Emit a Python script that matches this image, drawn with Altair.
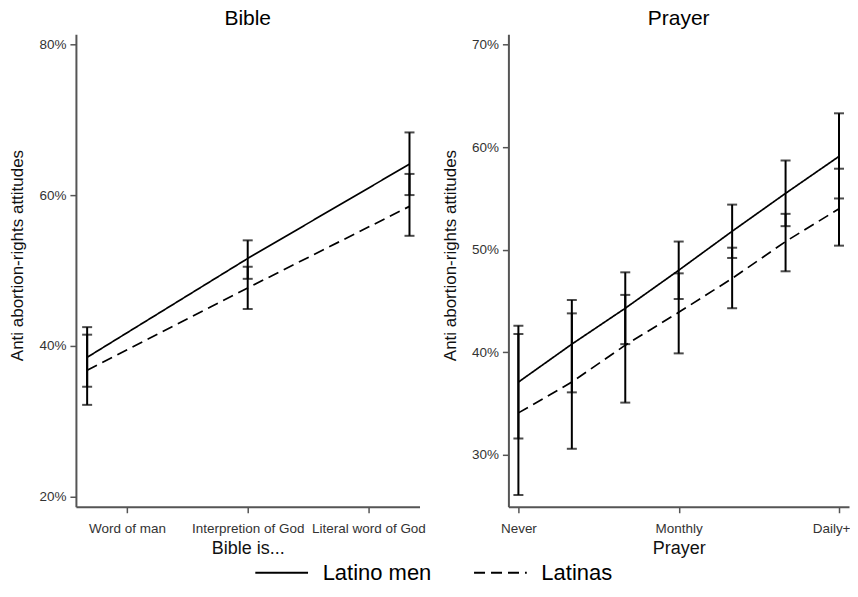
import altair as alt
import pandas as pd

FONT = "Liberation Sans"

groups = ["Latino men", "Latinas"]

# Bible panel
bible_x = [0.67, 2.0, 3.34]
bible_tick_values = [1, 2, 3]
bible_tick_labels = ["Word of man", "Interpretion of God", "Literal word of God"]
bible_men = [38.5, 51.6, 64.1]
bible_men_lo = [34.6, 48.9, 60.0]
bible_men_hi = [42.5, 54.0, 68.3]
bible_women = [36.8, 47.7, 58.5]
bible_women_lo = [32.2, 44.9, 54.6]
bible_women_hi = [41.5, 50.5, 62.8]
bible_y_ticks = [20, 40, 60, 80]

# Prayer panel
prayer_x = [1, 2, 3, 4, 5, 6, 7]
prayer_tick_values = [1, 4, 7]
prayer_tick_labels = ["Never", "Monthly", "Daily+"]
prayer_men = [37.1, 40.8, 44.3, 48.0, 51.8, 55.5, 59.1]
prayer_men_lo = [31.6, 36.1, 40.8, 45.2, 49.2, 52.3, 55.0]
prayer_men_hi = [42.6, 45.1, 47.8, 50.8, 54.4, 58.7, 63.3]
prayer_women = [34.1, 37.1, 40.7, 43.9, 47.2, 50.8, 54.0]
prayer_women_lo = [26.1, 30.6, 35.1, 39.9, 44.3, 47.9, 50.4]
prayer_women_hi = [41.8, 43.8, 45.6, 47.7, 50.2, 53.5, 57.9]
prayer_y_ticks = [30, 40, 50, 60, 70]


def make_df(xs, men, men_lo, men_hi, women, women_lo, women_hi):
    rows = []
    for i, x in enumerate(xs):
        rows.append({"x": x, "g": groups[0], "y": men[i], "lo": men_lo[i], "hi": men_hi[i]})
        rows.append({"x": x, "g": groups[1], "y": women[i], "lo": women_lo[i], "hi": women_hi[i]})
    return pd.DataFrame(rows)


def caps_df(df):
    a = df[["x", "g", "lo"]].rename(columns={"lo": "cap"})
    b = df[["x", "g", "hi"]].rename(columns={"hi": "cap"})
    return pd.concat([a, b], ignore_index=True)


def label_expr(values, labels):
    parts = []
    for v, l in zip(values, labels):
        parts.append(f"datum.value == {v} ? '{l}' : ")
    return "".join(parts) + "''"


def panel(df, title, xtitle, xdomain, xticks, xlabels, ydomain, yticks, width, show_legend, last_right):
    xaxis_kw = dict(values=xticks, labelExpr=label_expr(xticks, xlabels), title=xtitle,
                    labelOverlap=False, labelFlush=False, grid=False)
    if last_right:
        xaxis_kw["labelAlign"] = {"condition": {"test": f"datum.value == {xticks[-1]}", "value": "right"},
                                  "value": "center"}
        xaxis_kw["labelOffset"] = {"condition": {"test": f"datum.value == {xticks[-1]}", "value": 11},
                                   "value": 0}
    xaxis = alt.Axis(**xaxis_kw)
    yaxis = alt.Axis(values=yticks, labelExpr="datum.value + '%'", title="Anti abortion-rights attitudes",
                     grid=False, titleY=221)
    xs = alt.X("x:Q", scale=alt.Scale(domain=xdomain, nice=False, zero=False), axis=xaxis)
    ys = alt.Y("y:Q", scale=alt.Scale(domain=ydomain, nice=False, zero=False), axis=yaxis)
    dash = alt.StrokeDash(
        "g:N",
        scale=alt.Scale(domain=groups, range=[[1, 0], [11, 6]]),
        legend=(alt.Legend(title=None, orient="none", direction="horizontal", padding=0,
                           legendX=194, legendY=527, symbolType="M-2.4,0H2.4", symbolSize=484,
                           symbolStrokeWidth=2, symbolStrokeColor="black", labelFontSize=22,
                           labelFont=FONT, labelColor="black", columnPadding=38, labelOffset=29)
                if show_legend else None),
    )
    base = alt.Chart(df)
    lines = base.mark_line(color="black", strokeWidth=1.7, clip=True).encode(x=xs, y=ys, strokeDash=dash)
    rules = base.mark_rule(color="black", strokeWidth=2).encode(
        x=alt.X("x:Q"), y=alt.Y("lo:Q"), y2="hi:Q")
    caps = alt.Chart(caps_df(df)).mark_tick(color="black", orient="horizontal", size=10, thickness=2).encode(
        x=alt.X("x:Q"), y=alt.Y("cap:Q"))
    return alt.layer(lines, rules, caps).properties(
        width=width, height=473,
        title=alt.TitleParams(title, fontSize=21, font=FONT, fontWeight="normal", color="black",
                              offset=5),
    )


bible_df = make_df(bible_x, bible_men, bible_men_lo, bible_men_hi, bible_women, bible_women_lo, bible_women_hi)
prayer_df = make_df(prayer_x, prayer_men, prayer_men_lo, prayer_men_hi, prayer_women, prayer_women_lo, prayer_women_hi)

left = panel(bible_df, "Bible", "Bible is...", [0.577, 3.423], bible_tick_values, bible_tick_labels,
             [18.7, 81.3], bible_y_ticks, 344, True, False)
right = panel(prayer_df, "Prayer", "Prayer", [0.813, 7.187], prayer_tick_values, prayer_tick_labels,
              [24.95, 71.0], prayer_y_ticks, 341, False, True)

chart = alt.hconcat(left, right, spacing=15).resolve_scale(strokeDash="shared").configure_view(
    stroke=None
).configure_axis(
    domainColor="#555555", domainWidth=2, tickColor="#555555", tickWidth=1.5, tickSize=6,
    labelFont=FONT, labelFontSize=13.5, labelColor="#333333", labelPadding=4,
    titleFont=FONT, titleFontSize=18, titleFontWeight="normal", titleColor="#111111",
).configure_axisY(titleFontSize=17, titlePadding=12).configure_axisX(labelPadding=9, titlePadding=4
).properties(padding={"left": 0, "top": 0, "right": 0, "bottom": 0}, background="white")

chart.save("out.html", embed_options={"renderer": "svg", "actions": False})
